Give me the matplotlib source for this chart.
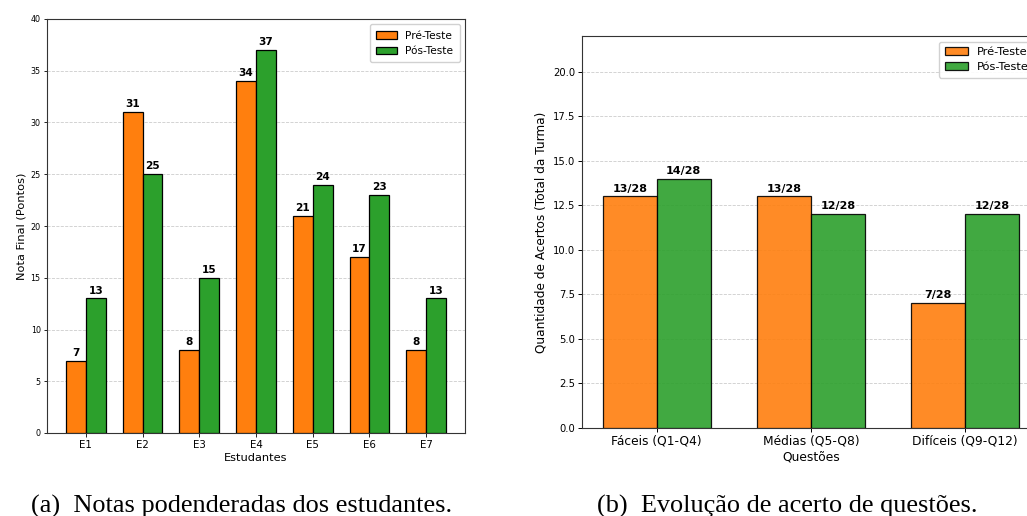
import matplotlib
matplotlib.use("Agg")
import matplotlib.pyplot as plt
import numpy as np

# Data
students = ["E1", "E2", "E3", "E4", "E5", "E6", "E7"]
pre_scores = [7, 31, 8, 34, 21, 17, 8]
post_scores = [13, 25, 15, 37, 24, 23, 13]

groups = ["Fáceis (Q1-Q4)", "Médias (Q5-Q8)", "Difíceis (Q9-Q12)"]
pre_hits = [13, 13, 7]
post_hits = [14, 12, 12]
total = 28

series_labels = ["Pré-Teste", "Pós-Teste"]
caption_a = "(a)  Notas podenderadas dos estudantes."
caption_b = "(b)  Evolução de acerto de questões."

W, H = 1027, 516
fig = plt.figure(figsize=(W / 100, H / 100), dpi=100)

def rect(l, t, r, b):
    return [l / W, 1 - b / H, (r - l) / W, (b - t) / H]

orange = "#ff7f0e"
green = "#2ca02c"
width = 0.35

# ---------- Left chart ----------
ax1 = fig.add_axes(rect(47, 19, 465, 433))
x = np.arange(len(students))
b1 = ax1.bar(x - width / 2, pre_scores, width, color=orange, edgecolor="black",
             linewidth=0.9, label=series_labels[0], zorder=3)
b2 = ax1.bar(x + width / 2, post_scores, width, color=green, edgecolor="black",
             linewidth=0.9, label=series_labels[1], zorder=3)
for bars in (b1, b2):
    for r in bars:
        h = r.get_height()
        ax1.annotate(f"{int(h)}", (r.get_x() + r.get_width() / 2, h),
                     xytext=(0, 2), textcoords="offset points", ha="center",
                     va="bottom", fontsize=7.6, fontweight="bold")
ax1.set_ylim(0, 40)
ax1.set_yticks(np.arange(0, 41, 5))
ax1.set_xticks(x)
ax1.set_xticklabels(students, fontsize=7.4)
ax1.tick_params(axis="y", labelsize=5.8, length=2.5, width=0.6, pad=2)
ax1.tick_params(axis="x", length=3, width=0.6, pad=2)
ax1.set_xlabel("Estudantes", fontsize=8.2, labelpad=2)
ax1.set_ylabel("Nota Final (Pontos)", fontsize=8.2, labelpad=3)
ax1.yaxis.grid(True, linestyle="--", color="#cccccc", linewidth=0.6, zorder=0)
ax1.set_axisbelow(True)
for s in ax1.spines.values():
    s.set_linewidth(0.8)
    s.set_color("#333333")
ax1.legend(loc="upper right", fontsize=7.6, handlelength=2, framealpha=0.9,
           borderpad=0.6, labelspacing=0.5)

# ---------- Right chart ----------
ax2 = fig.add_axes(rect(582, 36, 1040, 428))
xg = np.arange(len(groups))
c1 = ax2.bar(xg - width / 2, pre_hits, width, color=orange, alpha=0.9,
             edgecolor="black", linewidth=0.9, label=series_labels[0], zorder=3)
c2 = ax2.bar(xg + width / 2, post_hits, width, color=green, alpha=0.9,
             edgecolor="black", linewidth=0.9, label=series_labels[1], zorder=3)
for bars in (c1, c2):
    for r in bars:
        h = r.get_height()
        ax2.annotate(f"{int(h)}/{total}", (r.get_x() + r.get_width() / 2, h),
                     xytext=(0, 2), textcoords="offset points", ha="center",
                     va="bottom", fontsize=8, fontweight="bold")
ax2.set_ylim(0, 22)
ax2.set_yticks(np.arange(0, 20.1, 2.5))
ax2.set_yticklabels([f"{v:.1f}" for v in np.arange(0, 20.1, 2.5)])
ax2.set_xticks(xg)
ax2.set_xticklabels(groups, fontsize=8.8)
ax2.tick_params(axis="y", labelsize=7.2, length=3, width=0.7, pad=2)
ax2.tick_params(axis="x", length=3, width=0.7, pad=2)
ax2.set_xlabel("Questões", fontsize=8.8, labelpad=2)
ax2.set_ylabel("Quantidade de Acertos (Total da Turma)", fontsize=8.7, labelpad=4)
ax2.yaxis.grid(True, linestyle="--", color="#cccccc", linewidth=0.6, zorder=0)
ax2.set_axisbelow(True)
for s in ax2.spines.values():
    s.set_linewidth(0.8)
    s.set_color("#333333")
ax2.legend(loc="upper right", fontsize=8.2, handlelength=2, framealpha=0.9,
           borderpad=0.5, labelspacing=0.4)

# ---------- Captions ----------
fig.text(242 / W, 1 - 506 / H, caption_a, ha="center", va="center",
         fontsize=18.9, family="Liberation Serif")
fig.text(787 / W, 1 - 506 / H, caption_b, ha="center", va="center",
         fontsize=18.9, family="Liberation Serif")

fig.savefig("out.png", dpi=100)
